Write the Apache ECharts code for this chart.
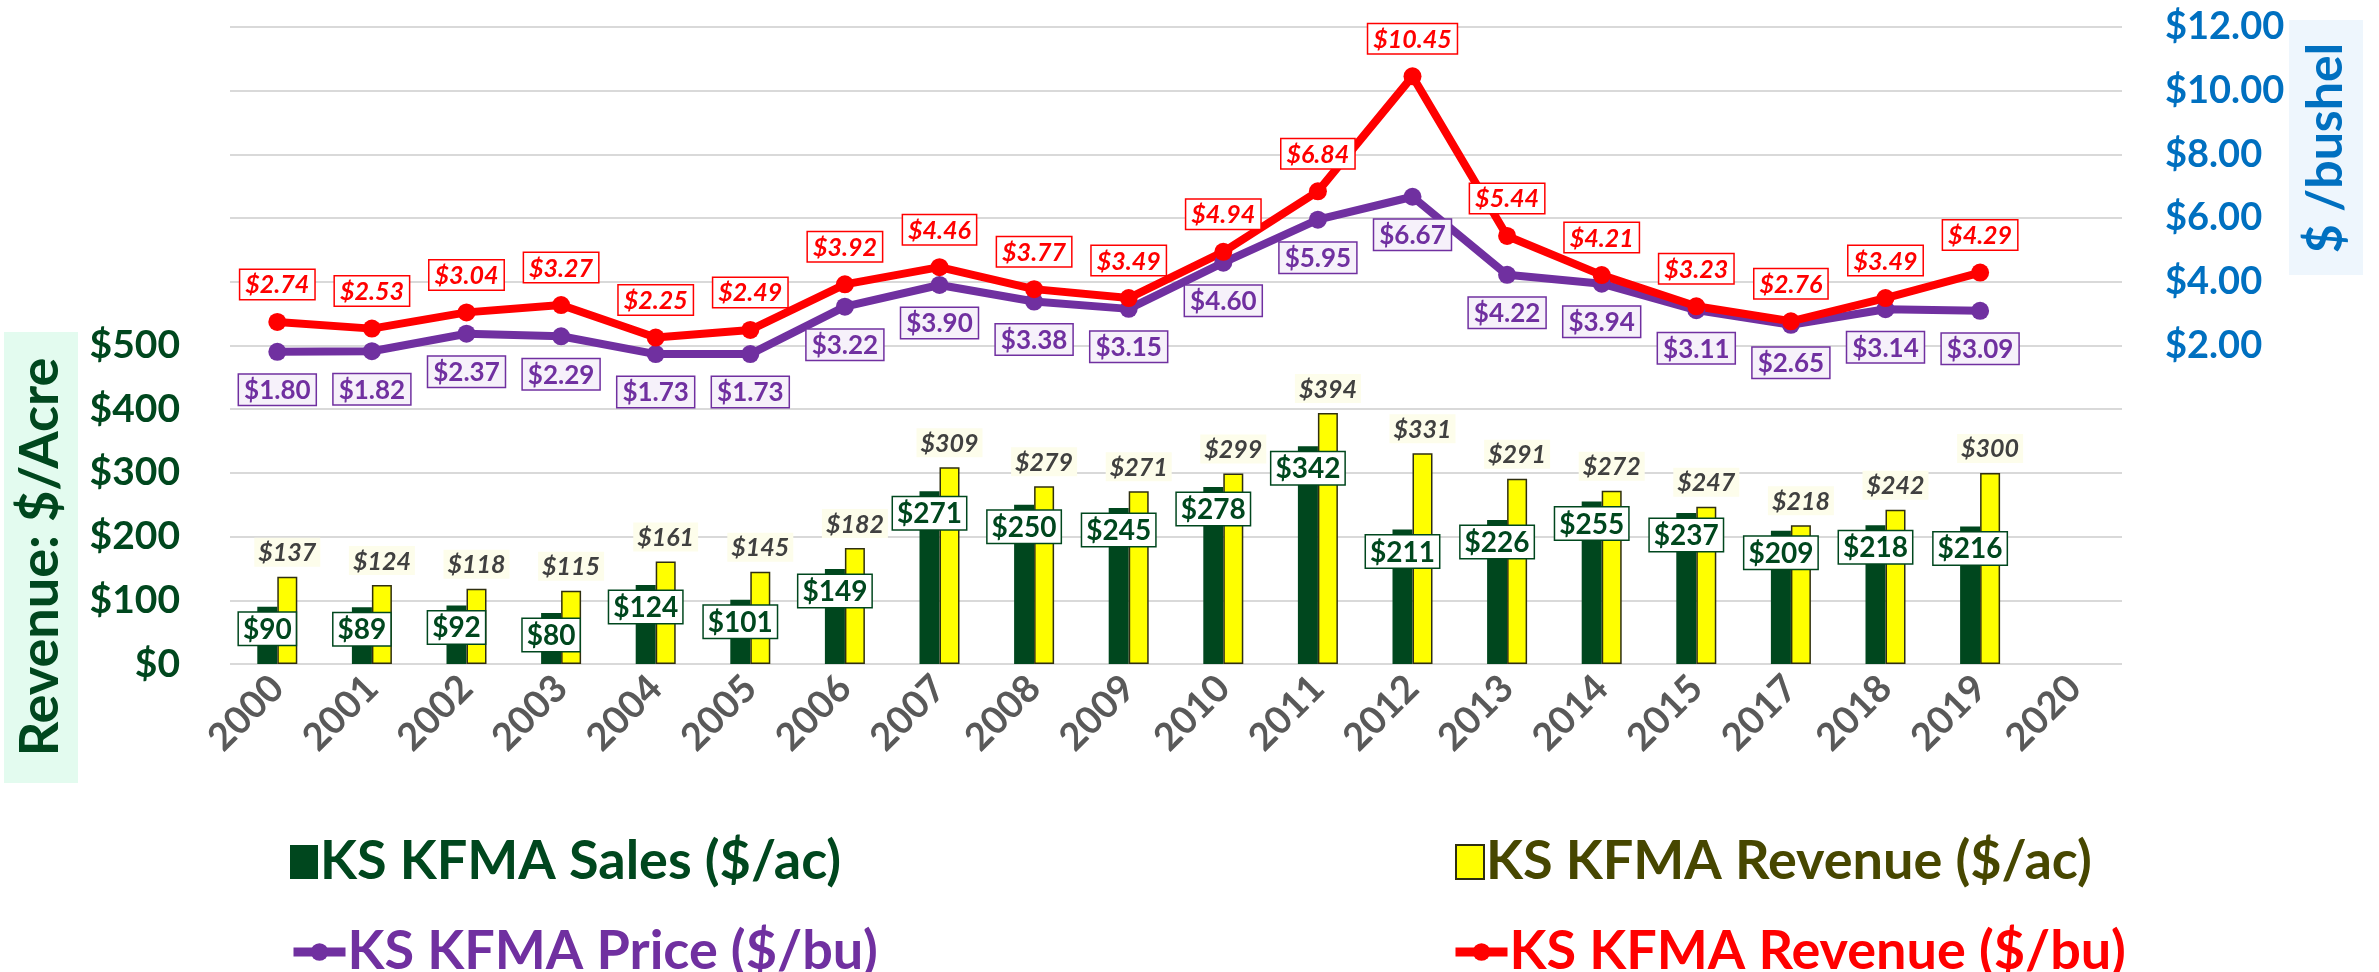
<!DOCTYPE html>
<html lang="en">
<head>
    <meta charset="UTF-8">
    <title>KS KFMA</title>
    <script type="text/javascript" src="https://cdn.jsdelivr.net/npm/echarts@6/dist/echarts.min.js"></script>
    <style>
        html, body { margin: 0; padding: 0; background: #fff; }
        #chart { width: 2379px; height: 972px; }
    </style>
</head>
<body>
    <div id="chart"></div>
    <script>
        // data
        var years = ['2000','2001','2002','2003','2004','2005','2006','2007','2008','2009',
                     '2010','2011','2012','2013','2014','2015','2017','2018','2019','2020'];
        var salesAc = [90, 89, 92, 80, 124, 101, 149, 271, 250, 245, 278, 342, 211, 226, 255, 237, 209, 218, 216, null];
        var revenueAc = [137, 124, 118, 115, 161, 145, 182, 309, 279, 271, 299, 394, 331, 291, 272, 247, 218, 242, 300, null];
        var priceBu = [1.80, 1.82, 2.37, 2.29, 1.73, 1.73, 3.22, 3.90, 3.38, 3.15, 4.60, 5.95, 6.67, 4.22, 3.94, 3.11, 2.65, 3.14, 3.09, null];
        var revenueBu = [2.74, 2.53, 3.04, 3.27, 2.25, 2.49, 3.92, 4.46, 3.77, 3.49, 4.94, 6.84, 10.45, 5.44, 4.21, 3.23, 2.76, 3.49, 4.29, null];

        var FONT = 'Lato';
        var GREEN = '#00471E';
        var PURPLE = '#7030A0';
        var RED = '#FF0000';
        var BLUE = '#0070C0';

        var chart = echarts.init(document.getElementById('chart'));

        function legendAt(name, left, top, color, w, h, icon) {
            return {
                data: [name],
                left: left,
                top: top,
                icon: icon,
                itemWidth: w,
                itemHeight: h,
                itemGap: 0,
                selectedMode: false,
                lineStyle: { width: 9 },
                textStyle: { color: color, fontSize: 54, fontWeight: 'bold', fontFamily: FONT, padding: [0, 0, 0, -3] }
            };
        }

        var option = {
            backgroundColor: '#fff',
            animation: false,
            grid: { left: 230, right: 257, top: 27, bottom: 308 },
            legend: [
                legendAt('KS KFMA Sales ($/ac)', 285, 830, GREEN, 28, 34, 'rect'),
                legendAt('KS KFMA Price ($/bu)', 284, 920, PURPLE, 52, 22),
                legendAt('KS KFMA Revenue ($/ac)', 1450, 830, '#474700', 28, 34, 'rect'),
                legendAt('KS KFMA Revenue ($/bu)', 1446, 920, RED, 52, 22)
            ],
            xAxis: {
                type: 'category',
                data: years,
                axisLine: { show: false },
                axisTick: { show: false },
                axisLabel: {
                    rotate: 45, margin: 18, interval: 0,
                    color: '#595959', fontSize: 38, fontWeight: 'bold', fontFamily: FONT
                }
            },
            yAxis: [{
                type: 'value',
                min: 0, max: 1000, interval: 100,
                axisLine: { show: false },
                axisTick: { show: false },
                splitLine: { lineStyle: { color: '#D9D9D9', width: 2 } },
                axisLabel: {
                    margin: 50,
                    color: GREEN, fontSize: 39, fontWeight: 'bold', fontFamily: FONT,
                    formatter: function (v) { return v <= 500 ? '$' + v : ''; }
                }
            }, {
                type: 'value',
                min: -8, max: 12, interval: 2,
                axisLine: { show: false },
                axisTick: { show: false },
                splitLine: { show: false },
                axisLabel: {
                    margin: 43,
                    color: BLUE, fontSize: 38, fontWeight: 'bold', fontFamily: FONT,
                    formatter: function (v) { return v >= 2 ? '$' + v.toFixed(2) : ''; }
                }
            }],
            graphic: [
                { type: 'rect', shape: { x: 4, y: 332, width: 74, height: 451 }, style: { fill: '#E3FBEF' } },
                {
                    type: 'text', x: 41, y: 557, rotation: Math.PI / 2,
                    style: { text: 'Revenue: $/Acre', fill: GREEN, font: 'bold 54px Lato', align: 'center', verticalAlign: 'middle' }
                },
                { type: 'rect', shape: { x: 2289, y: 20, width: 74, height: 255 }, style: { fill: '#EEF6FD' } },
                {
                    type: 'text', x: 2326, y: 148, rotation: Math.PI / 2,
                    style: { text: '$ /bushel', fill: BLUE, font: 'bold 50px Lato', align: 'center', verticalAlign: 'middle' }
                }
            ],
            series: [{
                name: 'KS KFMA Sales ($/ac)',
                type: 'bar',
                data: salesAc,
                barWidth: 20,
                barGap: '0%',
                itemStyle: { color: GREEN },
                label: {
                    show: true, position: 'insideTop', distance: 6,
                    formatter: function (p) { return '$' + p.value; },
                    color: GREEN, fontSize: 28, fontWeight: 'bold', fontFamily: FONT,
                    backgroundColor: '#fff', borderColor: GREEN, borderWidth: 1.5, padding: [3, 4, 1, 4]
                }
            }, {
                name: 'KS KFMA Revenue ($/ac)',
                type: 'bar',
                data: revenueAc,
                barWidth: 20,
                itemStyle: { color: '#FFFF00', borderColor: '#2F2F10', borderWidth: 1.5 },
                label: {
                    show: true, position: 'top', distance: 10,
                    formatter: function (p) { return '$' + p.value; },
                    color: '#404040', fontSize: 25, fontWeight: 'bold', fontStyle: 'italic', fontFamily: FONT,
                    backgroundColor: '#FDFDEB', padding: [3, 4, 1, 4]
                }
            }, {
                name: 'KS KFMA Price ($/bu)',
                type: 'line',
                yAxisIndex: 1,
                data: priceBu,
                symbol: 'circle',
                symbolSize: 18,
                itemStyle: { color: PURPLE },
                lineStyle: { color: PURPLE, width: 8 },
                label: {
                    show: true, position: 'bottom', distance: 14,
                    formatter: function (p) { return '$' + p.value.toFixed(2); },
                    color: PURPLE, fontSize: 26, fontWeight: 'bold', fontFamily: FONT,
                    backgroundColor: '#F6F1FA', borderColor: PURPLE, borderWidth: 1.5, padding: [3, 5, 1, 5]
                }
            }, {
                name: 'KS KFMA Revenue ($/bu)',
                type: 'line',
                yAxisIndex: 1,
                data: revenueBu,
                symbol: 'circle',
                symbolSize: 18,
                itemStyle: { color: RED },
                lineStyle: { color: RED, width: 8 },
                label: {
                    show: true, position: 'top', distance: 14,
                    formatter: function (p) { return '$' + p.value.toFixed(2); },
                    color: RED, fontSize: 25, fontWeight: 'bold', fontStyle: 'italic', fontFamily: FONT,
                    backgroundColor: '#fff', borderColor: RED, borderWidth: 1.5, padding: [3, 5, 1, 5]
                }
            }]
        };

        chart.setOption(option);
    </script>
</body>
</html>
